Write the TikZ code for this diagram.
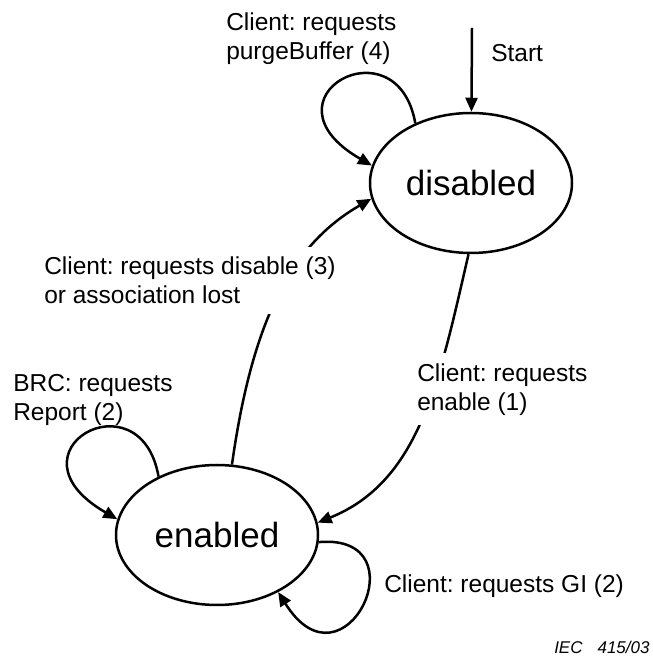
\documentclass[tikz,border=0pt]{standalone}
\usepackage{fontspec}
\setmainfont{Liberation Sans}
\usetikzlibrary{shapes.geometric,arrows.meta}
\frenchspacing
\tikzset{
  state/.style={draw,ellipse,minimum width=202pt,minimum height=140pt,inner sep=0pt,font=\fontsize{35}{42}\selectfont},
  trans/.style={font=\fontsize{24.5}{29}\selectfont,align=left,inner sep=0pt,anchor=north west},
  cover/.style={trans,fill=white,inner xsep=2pt,inner ysep=10pt}
}
\begin{document}
\begin{tikzpicture}[x=1pt,y=1pt,line width=2.5pt,>={Triangle[length=14pt,width=12pt]}]
\useasboundingbox (0,0) rectangle (653,659);
\node[state] (disabled) at (471,476) {disabled};
\node[state] (enabled) at (217,124) {enabled};
\coordinate (start) at (472,631);
\draw[->] (start) -- (disabled);
\draw[->] (disabled.133) .. controls +(100:105) and +(150:135) .. (disabled.170);
\draw[->] (enabled.78) .. controls +(82:150) and +(210:90) .. (disabled.189);
\draw[->] (disabled.268) .. controls +(257:130) and +(22:110) .. (enabled.7);
\draw[->] (enabled.135) .. controls +(100:105) and +(150:135) .. (enabled.171);
\draw[->] (enabled.356) .. controls +(5:105) and +(-58:125) .. (enabled.317);
\node[trans] (purgelbl) at (225,647) {Client: requests\\purgeBuffer (4)};
\node[trans] (startlbl) at (490,616) {Start};
\node[cover] (disablelbl) at (41,413) {Client: requests disable (3)\\or association lost};
\node[trans] (brclbl) at (12,286) {BRC: requests\\Report (2)};
\node[cover] (enablelbl) at (414,307) {Client: requests\\enable (1)};
\node[trans] (gilbl) at (383,86) {Client: requests GI (2)};
\node[trans,font=\fontsize{17}{20}\selectfont\itshape] (ieclbl) at (553,19) {IEC\hspace{15pt}415/03};
\end{tikzpicture}
\end{document}
